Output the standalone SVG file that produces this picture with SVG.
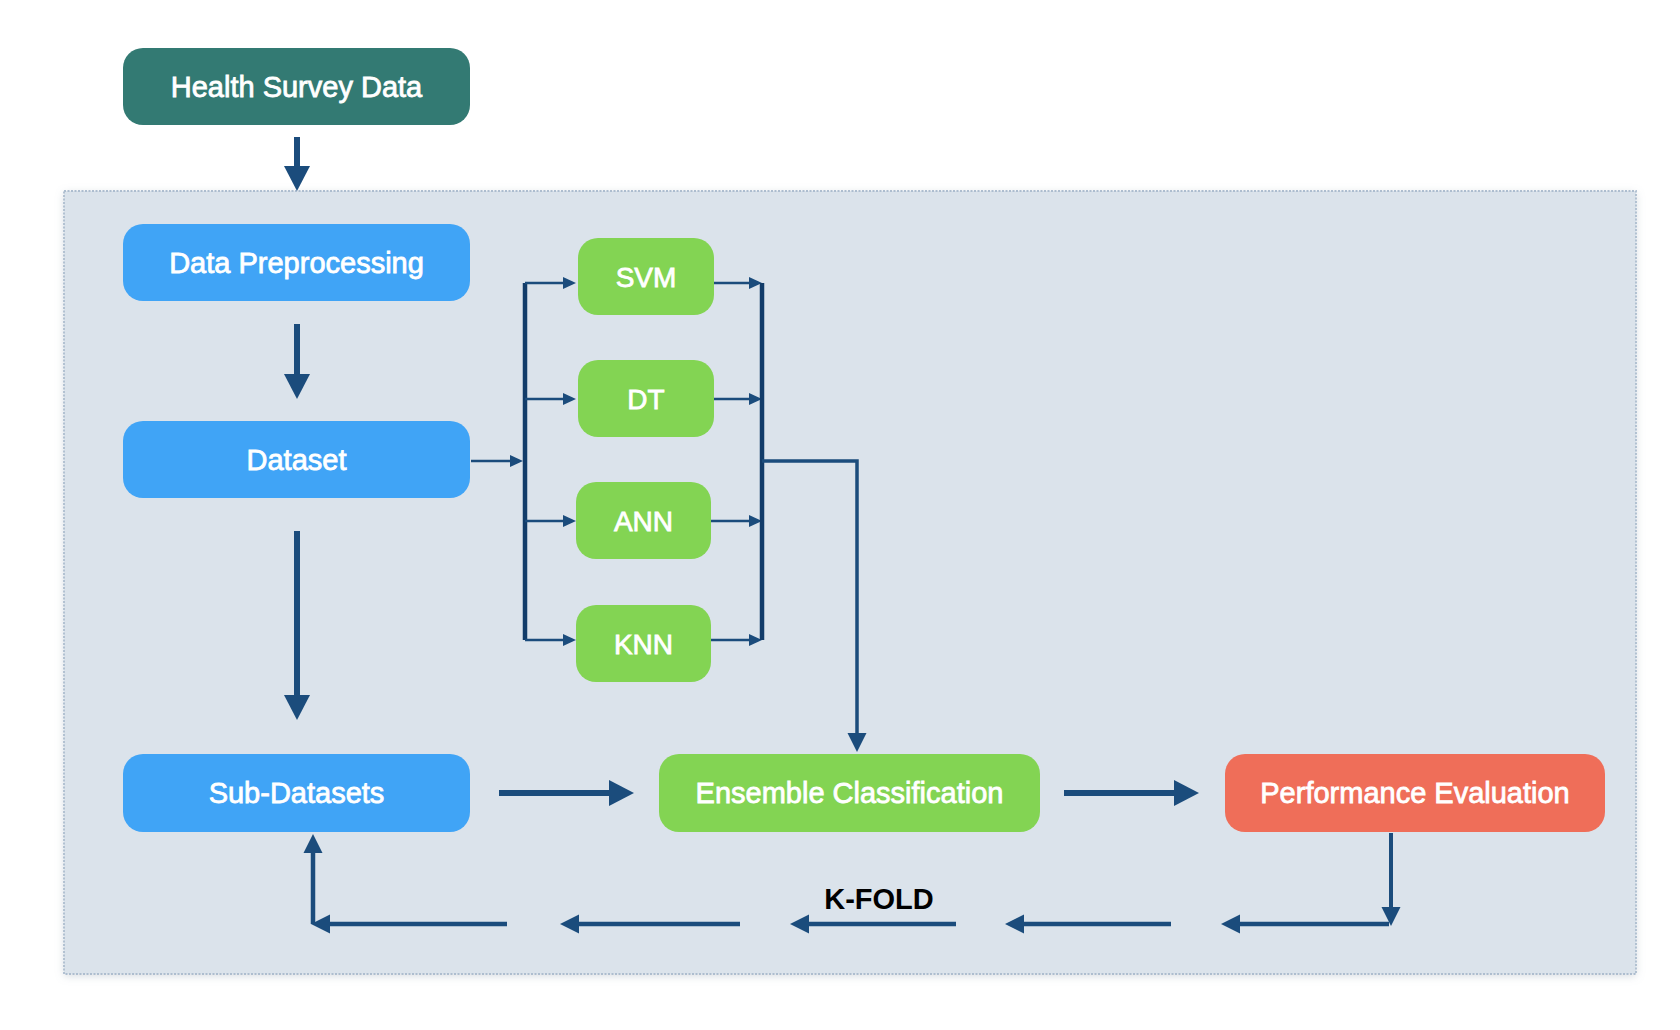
<svg xmlns="http://www.w3.org/2000/svg" width="1680" height="1030" viewBox="0 0 1680 1030">
<defs>
<style>
.box text{font-family:"Liberation Sans",Arial,sans-serif;font-size:29px;fill:#fff;text-anchor:middle;stroke:#fff;stroke-width:0.8px}
.sm text{font-size:28px}
.teal{fill:#337a73}
.blue{fill:#40a4f6}
.green{fill:#83d453}
.red{fill:#ef6e59}
.ln{fill:none;stroke:#1b4c7c;stroke-linejoin:miter}
.bus{fill:none;stroke:#123c69;stroke-width:4.5}
</style>
<marker id="hb" markerUnits="userSpaceOnUse" markerWidth="26" markerHeight="26" refX="0" refY="13" orient="auto" overflow="visible"><path d="M0,0 L25,13 L0,26 z" fill="#1b4c7c"/></marker>
<marker id="hm" markerUnits="userSpaceOnUse" markerWidth="19" markerHeight="19" refX="0" refY="9.5" orient="auto" overflow="visible"><path d="M0,0 L19,9.5 L0,19 z" fill="#1b4c7c"/></marker>
<marker id="hs" markerUnits="userSpaceOnUse" markerWidth="13" markerHeight="12" refX="0" refY="6" orient="auto" overflow="visible"><path d="M0,0 L13,6 L0,12 z" fill="#1b4c7c"/></marker>
<filter id="sh" x="-5%" y="-5%" width="110%" height="110%"><feDropShadow dx="0" dy="2" stdDeviation="4" flood-color="#8a98a8" flood-opacity="0.35"/></filter>
</defs>
<rect width="1680" height="1030" fill="#fff"/>
<g id="container">
<rect x="64" y="191" width="1572" height="783" fill="#dbe3eb" filter="url(#sh)"/>
<rect x="64" y="191" width="1572" height="783" fill="none" stroke="#adbdcf" stroke-width="1.8" stroke-dasharray="2 1.5"/>
</g>
<g id="connectors">
<path class="ln" stroke-width="6" d="M297,137 V166" marker-end="url(#hb)"/>
<path class="ln" stroke-width="6" d="M297,324 V374" marker-end="url(#hb)"/>
<path class="ln" stroke-width="6" d="M297,531 V695" marker-end="url(#hb)"/>
<path class="ln" stroke-width="2.5" d="M471,461 H510" marker-end="url(#hs)"/>
<path class="bus" d="M525,283 V640"/>
<path class="ln" stroke-width="2.5" d="M525,283 H563" marker-end="url(#hs)"/>
<path class="ln" stroke-width="2.5" d="M525,399 H563" marker-end="url(#hs)"/>
<path class="ln" stroke-width="2.5" d="M525,521 H563" marker-end="url(#hs)"/>
<path class="ln" stroke-width="2.5" d="M525,640 H563" marker-end="url(#hs)"/>
<path class="ln" stroke-width="2.5" d="M712,283 H749" marker-end="url(#hs)"/>
<path class="ln" stroke-width="2.5" d="M712,399 H749" marker-end="url(#hs)"/>
<path class="ln" stroke-width="2.5" d="M710,521 H749" marker-end="url(#hs)"/>
<path class="ln" stroke-width="2.5" d="M710,640 H749" marker-end="url(#hs)"/>
<path class="bus" d="M762,283 V640"/>
<path class="ln" stroke-width="3.5" d="M762,461 H857 V733" marker-end="url(#hm)"/>
<path class="ln" stroke-width="6" d="M499,793 H609" marker-end="url(#hb)"/>
<path class="ln" stroke-width="6" d="M1064,793 H1174" marker-end="url(#hb)"/>
<path class="ln" stroke-width="4" d="M1391,833 V907" marker-end="url(#hm)"/>
<path class="ln" stroke-width="4.5" d="M1389,924 H1240" marker-end="url(#hm)"/>
<path class="ln" stroke-width="4.5" d="M1171,924 H1024" marker-end="url(#hm)"/>
<path class="ln" stroke-width="4.5" d="M956,924 H809" marker-end="url(#hm)"/>
<path class="ln" stroke-width="4.5" d="M740,924 H579" marker-end="url(#hm)"/>
<path class="ln" stroke-width="4.5" d="M507,924 H330" marker-end="url(#hm)"/>
<path class="ln" stroke-width="4.5" d="M313,924 V853" marker-end="url(#hm)"/>
<text x="879" y="909" font-family="'Liberation Sans',Arial,sans-serif" font-size="29" font-weight="bold" text-anchor="middle" fill="#000">K-FOLD</text>
</g>
<g id="health-survey-data" class="box"><rect class="teal" x="123" y="48" width="347" height="77" rx="20"/><text x="296.5" y="97">Health Survey Data</text></g>
<g id="data-preprocessing" class="box"><rect class="blue" x="123" y="224" width="347" height="77" rx="20"/><text x="296.5" y="273">Data Preprocessing</text></g>
<g id="dataset" class="box"><rect class="blue" x="123" y="421" width="347" height="77" rx="20"/><text x="296.5" y="470">Dataset</text></g>
<g id="sub-datasets" class="box"><rect class="blue" x="123" y="754" width="347" height="78" rx="20"/><text x="296.5" y="803">Sub-Datasets</text></g>
<g id="svm" class="box sm"><rect class="green" x="578" y="238" width="136" height="77" rx="20"/><text x="646" y="287">SVM</text></g>
<g id="dt" class="box sm"><rect class="green" x="578" y="360" width="136" height="77" rx="20"/><text x="646" y="409">DT</text></g>
<g id="ann" class="box sm"><rect class="green" x="576" y="482" width="135" height="77" rx="20"/><text x="643.5" y="531">ANN</text></g>
<g id="knn" class="box sm"><rect class="green" x="576" y="605" width="135" height="77" rx="20"/><text x="643.5" y="654">KNN</text></g>
<g id="ensemble-classification" class="box"><rect class="green" x="659" y="754" width="381" height="78" rx="20"/><text x="849.5" y="803">Ensemble Classification</text></g>
<g id="performance-evaluation" class="box"><rect class="red" x="1225" y="754" width="380" height="78" rx="20"/><text x="1415" y="803">Performance Evaluation</text></g>
</svg>
